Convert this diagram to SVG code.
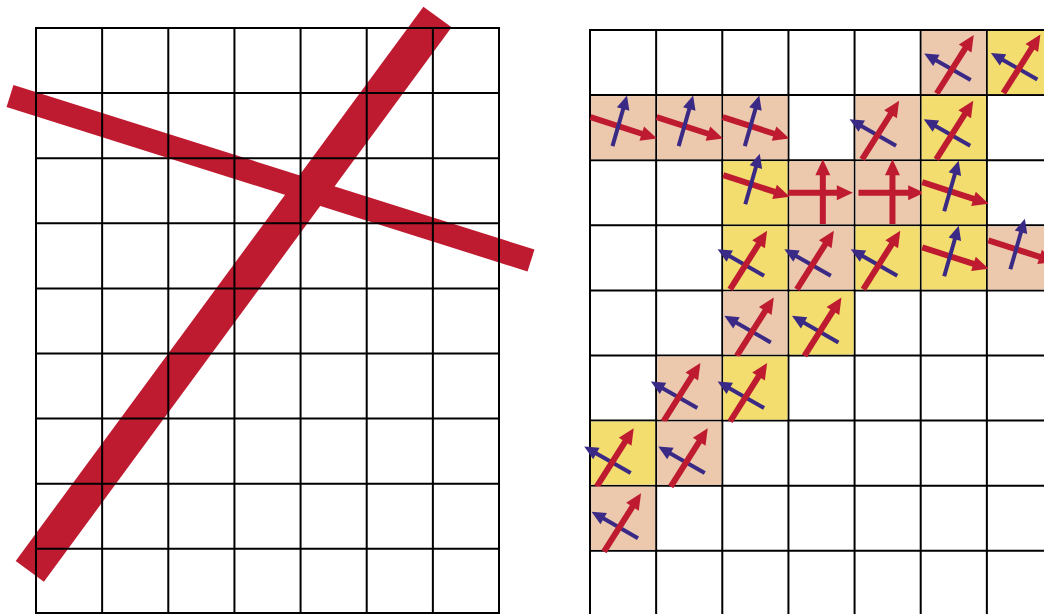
<svg xmlns="http://www.w3.org/2000/svg" xmlns:xlink="http://www.w3.org/1999/xlink" width="1044" height="614" viewBox="0 0 1044 614">
<style>
.grid{fill:none;stroke:#000;stroke-width:2;stroke-linecap:square}
.bar{stroke:#be1b31;stroke-linecap:butt}
.red{stroke:#be1b31;stroke-width:6;fill:none}
.blue{stroke:#3a2a86;stroke-width:4;fill:none}
.peach{fill:#ecc8ad}
.yellow{fill:#f2dd6e}
</style>
<defs>
<marker id="rh" markerUnits="userSpaceOnUse" markerWidth="16" markerHeight="15" viewBox="0 -7.5 16 15" refX="1" refY="0" orient="auto" overflow="visible"><path d="M0,-7.5L16,0L0,7.5z" fill="#be1b31"/></marker>
<marker id="bh" markerUnits="userSpaceOnUse" markerWidth="14" markerHeight="13" viewBox="0 -6.5 14 13" refX="1" refY="0" orient="auto" overflow="visible"><path d="M0,-6.5L14,0L0,6.5z" fill="#3a2a86"/></marker>
<g id="diag">
<line class="blue" x1="50" y1="50" x2="14.8" y2="29.9" marker-end="url(#bh)"/>
<line class="red" x1="16" y1="63.5" x2="45" y2="17.7" marker-end="url(#rh)"/>
</g>
<g id="ese">
<line class="red" x1="0.5" y1="22" x2="52.7" y2="38.9" marker-end="url(#rh)"/>
<line class="blue" x1="22.5" y1="51" x2="33.4" y2="13" marker-end="url(#bh)"/>
</g>
</defs>
<rect width="1044" height="614" fill="#fff"/>

<g id="left-panel">
<g id="left-bars">
<line class="bar" x1="29.8" y1="571.3" x2="437.5" y2="17" stroke-width="35"/>
<line class="bar" x1="10" y1="96" x2="531" y2="260.5" stroke-width="23"/>
</g>
<path id="left-grid" class="grid" d="M36,28V613.9M102.14,28V613.9M168.29,28V613.9M234.43,28V613.9M300.57,28V613.9M366.71,28V613.9M432.86,28V613.9M499,28V613.9M36,28H499M36,93.1H499M36,158.2H499M36,223.3H499M36,288.4H499M36,353.5H499M36,418.6H499M36,483.7H499M36,548.8H499M36,613H499"/>
</g>

<g id="right-panel">
<path id="right-grid" class="grid" d="M590,30V614M656.14,30V614M722.29,30V614M788.43,30V614M854.57,30V614M920.71,30V614M986.86,30V614M590,30H1044M590,95.1H1044M590,160.2H1044M590,225.3H1044M590,290.4H1044M590,355.5H1044M590,420.6H1044M590,485.7H1044M590,550.8H1044"/>

<g id="cell-r0c5" transform="translate(920.71,30)"><rect class="peach" x="1" y="1" width="64.14" height="63.1"/><use xlink:href="#diag"/></g>
<g id="cell-r0c6" transform="translate(986.86,30)"><rect class="yellow" x="1" y="1" width="64.14" height="63.1"/><use xlink:href="#diag" x="0.5" y="-0.5"/></g>

<g id="cell-r1c0" transform="translate(590,95.1)"><rect class="peach" x="1" y="1" width="64.14" height="63.1"/><use xlink:href="#ese"/></g>
<g id="cell-r1c1" transform="translate(656.14,95.1)"><rect class="peach" x="1" y="1" width="64.14" height="63.1"/><use xlink:href="#ese"/></g>
<g id="cell-r1c2" transform="translate(722.29,95.1)"><rect class="peach" x="1" y="1" width="64.14" height="63.1"/><use xlink:href="#ese"/></g>
<g id="cell-r1c4" transform="translate(854.57,95.1)"><rect class="peach" x="1" y="1" width="64.14" height="63.1"/><use xlink:href="#diag" x="-8.5" y="0.7"/></g>
<g id="cell-r1c5" transform="translate(920.71,95.1)"><rect class="yellow" x="1" y="1" width="64.14" height="63.1"/><use xlink:href="#diag" x="-0.5" y="0.7"/></g>

<g id="cell-r2c2" transform="translate(722.29,160.2)"><rect class="yellow" x="1" y="1" width="64.14" height="63.1"/><use xlink:href="#ese" x="0.5" y="-7"/></g>
<g id="cell-r2c3" transform="translate(788.43,160.2)"><rect class="peach" x="1" y="1" width="64.14" height="63.1"/>
<line class="red" x1="0" y1="32.5" x2="49.4" y2="32.5" marker-end="url(#rh)"/>
<line class="red" x1="34.4" y1="63.8" x2="34.4" y2="14.1" marker-end="url(#rh)"/></g>
<g id="cell-r2c4" transform="translate(854.57,160.2)"><rect class="peach" x="1" y="1" width="64.14" height="63.1"/>
<line class="red" x1="3.9" y1="32.5" x2="54.6" y2="32.5" marker-end="url(#rh)"/>
<line class="red" x1="37.9" y1="63.8" x2="37.9" y2="14" marker-end="url(#rh)"/></g>
<g id="cell-r2c5" transform="translate(920.71,160.2)"><rect class="yellow" x="1" y="1" width="64.14" height="63.1"/><use xlink:href="#ese" x="1" y="0"/></g>

<g id="cell-r3c2" transform="translate(722.29,225.3)"><rect class="yellow" x="1" y="1" width="64.14" height="63.1"/><use xlink:href="#diag" x="-8.2" y="0.5"/></g>
<g id="cell-r3c3" transform="translate(788.43,225.3)"><rect class="peach" x="1" y="1" width="64.14" height="63.1"/><use xlink:href="#diag" x="-7.6" y="0.5"/></g>
<g id="cell-r3c4" transform="translate(854.57,225.3)"><rect class="yellow" x="1" y="1" width="64.14" height="63.1"/><use xlink:href="#diag" x="-7.3" y="0.5"/></g>
<g id="cell-r3c5" transform="translate(920.71,225.3)"><rect class="yellow" x="1" y="1" width="64.14" height="63.1"/><use xlink:href="#ese" x="1" y="0"/></g>
<g id="cell-r3c6" transform="translate(986.86,225.3)"><rect class="peach" x="1" y="1" width="64.14" height="63.1"/><use xlink:href="#ese" x="1" y="-7"/></g>

<g id="cell-r4c2" transform="translate(722.29,290.4)"><rect class="peach" x="1" y="1" width="64.14" height="63.1"/><use xlink:href="#diag" x="-1.5" y="2"/></g>
<g id="cell-r4c3" transform="translate(788.43,290.4)"><rect class="yellow" x="1" y="1" width="64.14" height="63.1"/><use xlink:href="#diag" x="0" y="2"/></g>

<g id="cell-r5c1" transform="translate(656.14,355.5)"><rect class="peach" x="1" y="1" width="64.14" height="63.1"/><use xlink:href="#diag" x="-8.8" y="2.5"/></g>
<g id="cell-r5c2" transform="translate(722.29,355.5)"><rect class="yellow" x="1" y="1" width="64.14" height="63.1"/><use xlink:href="#diag" x="-8.2" y="2.5"/></g>

<g id="cell-r6c0" transform="translate(590,420.6)"><rect class="yellow" x="1" y="1" width="64.14" height="63.1"/><use xlink:href="#diag" x="-9.3" y="2.5"/></g>
<g id="cell-r6c1" transform="translate(656.14,420.6)"><rect class="peach" x="1" y="1" width="64.14" height="63.1"/><use xlink:href="#diag" x="-1.4" y="2.5"/></g>

<g id="cell-r7c0" transform="translate(590,485.7)"><rect class="peach" x="1" y="1" width="64.14" height="63.1"/><use xlink:href="#diag" x="-2" y="2.5"/></g>
</g>
</svg>
